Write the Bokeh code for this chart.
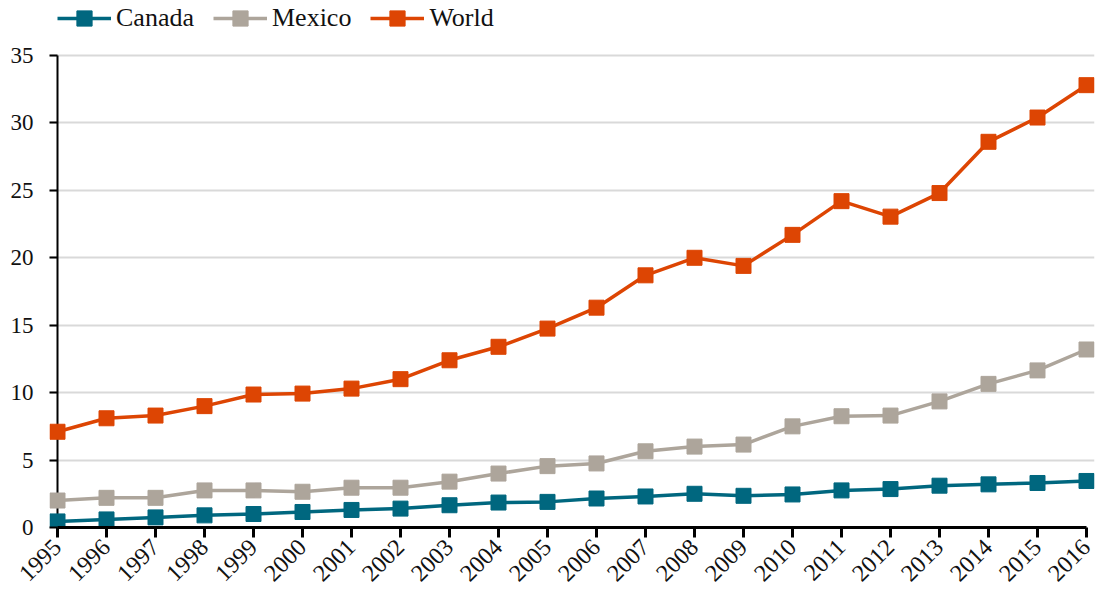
import math
from bokeh.plotting import figure
from bokeh.models import Range1d, FixedTicker, Legend, LegendItem
from bokeh.embed import file_html
from bokeh.resources import INLINE

years = list(range(1995, 2017))
canada = [0.45, 0.6, 0.75, 0.9, 1.0, 1.15, 1.3, 1.4, 1.65, 1.85, 1.9, 2.15, 2.3, 2.5, 2.35, 2.45, 2.75, 2.85, 3.1, 3.2, 3.3, 3.45]
mexico = [2.0, 2.2, 2.2, 2.75, 2.75, 2.65, 2.95, 2.95, 3.4, 4.0, 4.55, 4.75, 5.65, 6.0, 6.15, 7.5, 8.25, 8.3, 9.35, 10.65, 11.65, 13.2]
world = [7.1, 8.1, 8.3, 9.0, 9.86, 9.93, 10.3, 11.0, 12.4, 13.4, 14.75, 16.3, 18.7, 20.0, 19.4, 21.7, 24.2, 23.05, 24.8, 28.6, 30.4, 32.8]
y_ticks = [0, 5, 10, 15, 20, 25, 30, 35]

series = [("Canada", canada, "#00677F"), ("Mexico", mexico, "#ADA59B"), ("World", world, "#DD4503")]

FONT = "Liberation Serif"

FW = 1045
FH = 527
PAD = 8 * (years[-1] - years[0]) / (FW - 16)
YTOP = y_ticks[-1] * FH / (527 - 55)

p = figure(width=1097, height=597, output_backend="svg", toolbar_location=None,
           x_range=Range1d(years[0] - PAD, years[-1] + PAD), y_range=Range1d(0, YTOP),
           frame_width=FW, frame_height=FH,
           min_border_left=49, min_border_right=3, min_border_bottom=10, min_border_top=0)
p.outline_line_color = None
p.background_fill_color = "white"

# y axis line at the first year
p.segment(x0=[years[0]], y0=[y_ticks[0]], x1=[years[0]], y1=[y_ticks[-1]],
          line_color="black", line_width=2)

items = []
for name, vals, col in series:
    r1 = p.line(years, vals, line_color=col, line_width=3.5)
    r2 = p.scatter(years, vals, marker="square", size=15, fill_color=col, line_color=col)
    items.append(LegendItem(label=name, renderers=[r1, r2]))

legend = Legend(items=items, orientation="horizontal", location=(8, FH - 37),
                label_text_font=FONT, label_text_font_size="26px", label_text_color="#111111",
                glyph_width=54, glyph_height=38, label_standoff=5, spacing=19,
                border_line_color=None, background_fill_alpha=0, padding=0, margin=0)
p.add_layout(legend)

p.xgrid.visible = False
p.ygrid.grid_line_color = "#D9D9D9"
p.ygrid.grid_line_width = 2
p.yaxis.ticker = FixedTicker(ticks=y_ticks)
p.xaxis.ticker = FixedTicker(ticks=years)
p.xaxis.bounds = (years[0], years[-1])
p.yaxis.bounds = (y_ticks[0], y_ticks[-1])

for ax in (p.xaxis[0], p.yaxis[0]):
    ax.major_tick_line_color = "black"
    ax.minor_tick_line_color = None
    ax.major_label_text_font = FONT
    ax.major_label_text_font_size = "23px"
    ax.major_label_text_color = "#111111"

p.yaxis.axis_line_color = None
p.yaxis.major_tick_line_width = 2
p.yaxis.major_tick_out = 0
p.yaxis.major_tick_in = 8
p.yaxis.major_label_standoff = 16

p.xaxis.axis_line_color = "black"
p.xaxis.axis_line_width = 3
p.xaxis.major_tick_line_width = 3
p.xaxis.major_tick_in = 0
p.xaxis.major_tick_out = 10
p.xaxis.major_label_orientation = math.pi / 4
p.xaxis.major_label_text_font_size = "24px"
p.xaxis.major_label_standoff = 6

open("out.html", "w").write(file_html(p, INLINE))
